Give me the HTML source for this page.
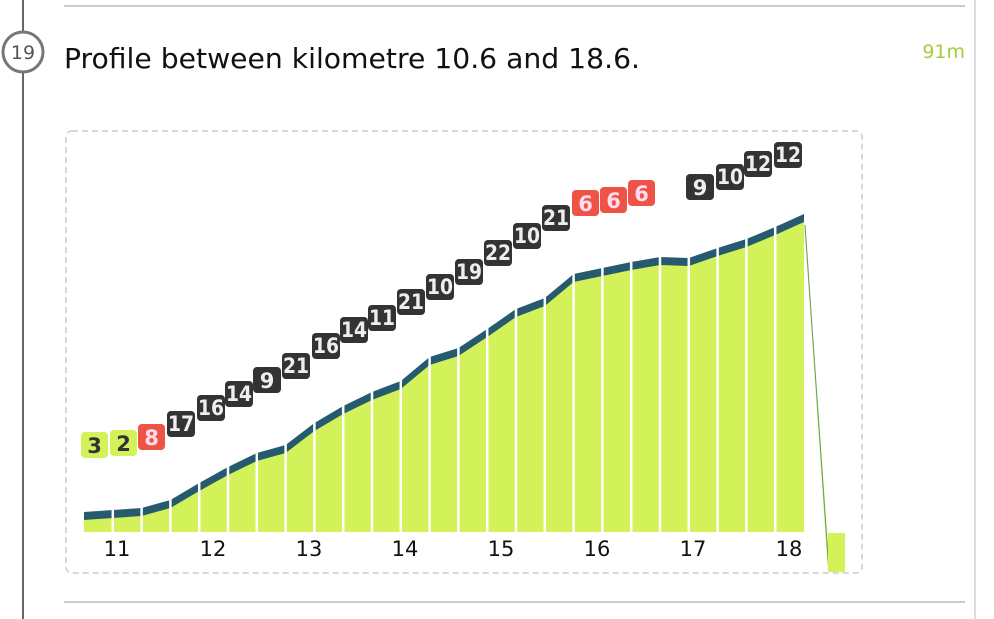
<!DOCTYPE html>
<html><head><meta charset="utf-8"><style>
body{margin:0;background:#fff;width:994px;height:619px;overflow:hidden;font-family:"DejaVu Sans","Liberation Sans",sans-serif}
</style></head><body>
<svg width="994" height="619" xmlns="http://www.w3.org/2000/svg" style="position:absolute;left:0;top:0">
<line x1="23" y1="0" x2="23" y2="619" stroke="#666" stroke-width="2"/>
<circle cx="23" cy="52" r="20" fill="#fff" stroke="#777" stroke-width="3"/>
<text x="23" y="59" font-size="19" fill="#555" text-anchor="middle" font-family="DejaVu Sans,sans-serif">19</text>
<line x1="64" y1="6" x2="965" y2="6" stroke="#ccc" stroke-width="2"/>
<line x1="64" y1="602" x2="965" y2="602" stroke="#ccc" stroke-width="2"/>
<line x1="975" y1="0" x2="975" y2="619" stroke="#ddd" stroke-width="2"/>
<text x="64" y="68" font-size="28" fill="#111" font-family="DejaVu Sans,sans-serif" textLength="576" lengthAdjust="spacingAndGlyphs">Profile between kilometre 10.6 and 18.6.</text>
<text x="965" y="58" font-size="19" fill="#a4cc3c" text-anchor="end" font-family="DejaVu Sans,sans-serif">91m</text>
<rect x="66" y="131" width="796" height="442" rx="6" fill="none" stroke="#ccc" stroke-width="1.5" stroke-dasharray="6,4"/>
<polygon fill="#265a6e" points="84,532 84,512 112.8,510 141.6,508 170.4,500 199.2,483 228,467 256.8,453 285.6,445 314.4,423 343.2,406 372,392 400.8,381 429.6,357 458.4,348 487.2,329 516,309 544.8,298 573.6,274 602.4,268 631.2,262 660,257 688.8,258 717.6,248 746.4,239 775.2,227 804,214 804,532"/>
<polygon fill="#d3f25a" points="84,532 84,520 112.8,518 141.6,516 170.4,508 199.2,491 228,475 256.8,461 285.6,453 314.4,431 343.2,414 372,400 400.8,389 429.6,365 458.4,356 487.2,337 516,317 544.8,306 573.6,282 602.4,276 631.2,270 660,265 688.8,266 717.6,256 746.4,247 775.2,235 804,222 804,532"/>
<polygon fill="#d3f25a" points="804,222 806,240 830,572 828,572"/>
<line x1="805" y1="225" x2="829" y2="572" stroke="#6a9a6a" stroke-width="1"/>
<rect x="828" y="533" width="17" height="39" fill="#d3f25a"/>
<g stroke="#fff" stroke-width="2.5">
<line x1="112.8" y1="200" x2="112.8" y2="533"/><line x1="141.6" y1="200" x2="141.6" y2="533"/><line x1="170.4" y1="200" x2="170.4" y2="533"/><line x1="199.2" y1="200" x2="199.2" y2="533"/><line x1="228" y1="200" x2="228" y2="533"/><line x1="256.8" y1="200" x2="256.8" y2="533"/><line x1="285.6" y1="200" x2="285.6" y2="533"/><line x1="314.4" y1="200" x2="314.4" y2="533"/><line x1="343.2" y1="200" x2="343.2" y2="533"/><line x1="372" y1="200" x2="372" y2="533"/><line x1="400.8" y1="200" x2="400.8" y2="533"/><line x1="429.6" y1="200" x2="429.6" y2="533"/><line x1="458.4" y1="200" x2="458.4" y2="533"/><line x1="487.2" y1="200" x2="487.2" y2="533"/><line x1="516" y1="200" x2="516" y2="533"/><line x1="544.8" y1="200" x2="544.8" y2="533"/><line x1="573.6" y1="200" x2="573.6" y2="533"/><line x1="602.4" y1="200" x2="602.4" y2="533"/><line x1="631.2" y1="200" x2="631.2" y2="533"/><line x1="660" y1="200" x2="660" y2="533"/><line x1="688.8" y1="200" x2="688.8" y2="533"/><line x1="717.6" y1="200" x2="717.6" y2="533"/><line x1="746.4" y1="200" x2="746.4" y2="533"/><line x1="775.2" y1="200" x2="775.2" y2="533"/>
</g>
<g font-size="21" fill="#111" text-anchor="middle" font-family="DejaVu Sans,sans-serif">
<text x="117" y="556">11</text><text x="213" y="556">12</text><text x="309" y="556">13</text><text x="405" y="556">14</text><text x="501" y="556">15</text><text x="597" y="556">16</text><text x="693" y="556">17</text><text x="789" y="556">18</text>
</g>
<g font-size="21" font-weight="bold" text-anchor="middle" font-family="DejaVu Sans,sans-serif">
<rect x="81" y="432" width="27" height="26" rx="4" fill="#d3f25a"/><text x="94.5" y="453" fill="#333">3</text>
<rect x="110" y="430" width="27" height="26" rx="4" fill="#d3f25a"/><text x="123.5" y="451" fill="#333">2</text>
<rect x="138" y="424" width="27" height="26" rx="4" fill="#ee5346"/><text x="151.5" y="445" fill="#fde">8</text>
<g fill="#333">
<rect x="167" y="411" width="28" height="26" rx="4"/><rect x="197" y="395" width="28" height="26" rx="4"/><rect x="225" y="381" width="28" height="26" rx="4"/><rect x="253" y="367" width="28" height="26" rx="4"/><rect x="282" y="353" width="28" height="26" rx="4"/><rect x="312" y="333" width="28" height="26" rx="4"/><rect x="340" y="317" width="28" height="26" rx="4"/><rect x="368" y="305" width="28" height="26" rx="4"/><rect x="397" y="289" width="28" height="26" rx="4"/><rect x="426" y="274" width="28" height="26" rx="4"/><rect x="455" y="259" width="28" height="26" rx="4"/><rect x="484" y="240" width="28" height="26" rx="4"/><rect x="513" y="223" width="28" height="26" rx="4"/><rect x="542" y="205" width="28" height="26" rx="4"/>
<rect x="686" y="174" width="28" height="26" rx="4"/><rect x="716" y="164" width="28" height="26" rx="4"/><rect x="744" y="151" width="28" height="26" rx="4"/><rect x="774" y="142" width="28" height="26" rx="4"/>
</g>
<g fill="#ee5346"><rect x="572" y="190" width="27" height="26" rx="4"/><rect x="600" y="187" width="27" height="26" rx="4"/><rect x="628" y="180" width="27" height="26" rx="4"/></g>
<g fill="#eee">
<text x="181" y="431" textLength="26" lengthAdjust="spacingAndGlyphs">17</text><text x="211" y="415" textLength="26" lengthAdjust="spacingAndGlyphs">16</text><text x="239" y="401" textLength="26" lengthAdjust="spacingAndGlyphs">14</text><text x="267" y="388">9</text><text x="296" y="373" textLength="26" lengthAdjust="spacingAndGlyphs">21</text><text x="326" y="353" textLength="26" lengthAdjust="spacingAndGlyphs">16</text><text x="354" y="337" textLength="26" lengthAdjust="spacingAndGlyphs">14</text><text x="382" y="325" textLength="26" lengthAdjust="spacingAndGlyphs">11</text><text x="411" y="309" textLength="26" lengthAdjust="spacingAndGlyphs">21</text><text x="440" y="294" textLength="26" lengthAdjust="spacingAndGlyphs">10</text><text x="469" y="279" textLength="26" lengthAdjust="spacingAndGlyphs">19</text><text x="498" y="260" textLength="26" lengthAdjust="spacingAndGlyphs">22</text><text x="527" y="243" textLength="26" lengthAdjust="spacingAndGlyphs">10</text><text x="556" y="225" textLength="26" lengthAdjust="spacingAndGlyphs">21</text>
<text x="700" y="195">9</text><text x="730" y="184" textLength="26" lengthAdjust="spacingAndGlyphs">10</text><text x="758" y="171" textLength="26" lengthAdjust="spacingAndGlyphs">12</text><text x="788" y="162" textLength="26" lengthAdjust="spacingAndGlyphs">12</text>
</g>
<g fill="#fde"><text x="585.5" y="211">6</text><text x="613.5" y="208">6</text><text x="641.5" y="201">6</text></g>
</g>
</svg>
</body></html>
